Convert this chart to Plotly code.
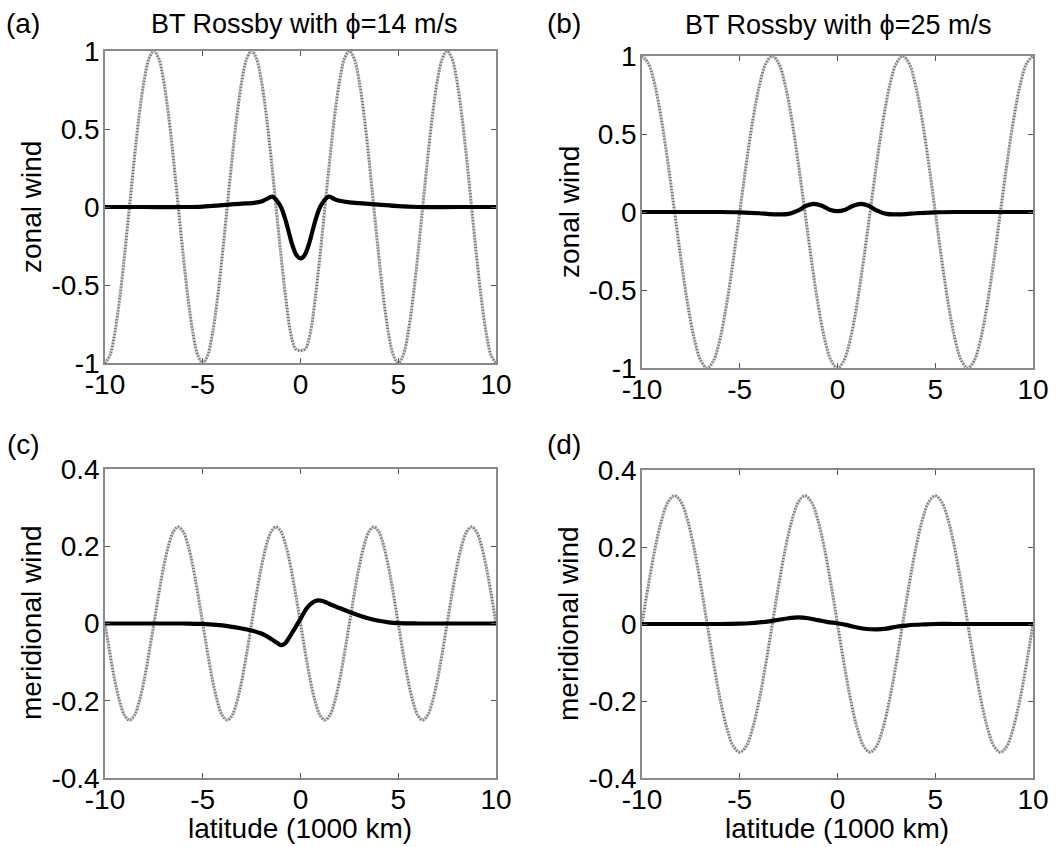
import plotly.graph_objects as go

W, H = 1060, 847
FONT = "Liberation Sans, Arial, sans-serif"

# ---------------- data ----------------
x_ac = [-10, -9.75, -9.5, -9.25, -9, -8.75, -8.5, -8.25, -8, -7.75, -7.5, -7.25, -7, -6.75, -6.5, -6.25, -6, -5.75, -5.5, -5.25,
        -5, -4.75, -4.5, -4.25, -4, -3.75, -3.5, -3.25, -3, -2.75, -2.5, -2.25, -2, -1.75, -1.5, -1.25, -1, -0.75, -0.5, -0.25,
        0, 0.25, 0.5, 0.75, 1, 1.25, 1.5, 1.75, 2, 2.25, 2.5, 2.75, 3, 3.25, 3.5, 3.75, 4, 4.25, 4.5, 4.75,
        5, 5.25, 5.5, 5.75, 6, 6.25, 6.5, 6.75, 7, 7.25, 7.5, 7.75, 8, 8.25, 8.5, 8.75, 9, 9.25, 9.5, 9.75, 10]

x_bd = [-10, -9.667, -9.333, -9, -8.667, -8.333, -8, -7.667, -7.333, -7, -6.667, -6.333, -6, -5.667, -5.333, -5, -4.667, -4.333, -4, -3.667,
        -3.333, -3, -2.667, -2.333, -2, -1.667, -1.333, -1, -0.667, -0.333, 0, 0.333, 0.667, 1, 1.333, 1.667, 2, 2.333, 2.667, 3,
        3.333, 3.667, 4, 4.333, 4.667, 5, 5.333, 5.667, 6, 6.333, 6.667, 7, 7.333, 7.667, 8, 8.333, 8.667, 9, 9.333, 9.667, 10]

# (a) zonal wind, BT Rossby phi=14 : reference wave (dotted)
ua_wave = [-1, -0.951, -0.809, -0.588, -0.309, 0, 0.309, 0.588, 0.809, 0.951, 1, 0.951, 0.809, 0.588, 0.309, 0, -0.309, -0.588, -0.809, -0.951,
           -1, -0.951, -0.809, -0.588, -0.309, 0, 0.309, 0.588, 0.809, 0.951, 1, 0.951, 0.809, 0.588, 0.309, 0, -0.309, -0.588, -0.809, -0.91,
           -0.92, -0.91, -0.809, -0.588, -0.309, 0, 0.309, 0.588, 0.809, 0.951, 1, 0.951, 0.809, 0.588, 0.309, 0, -0.309, -0.588, -0.809, -0.951,
           -1, -0.951, -0.809, -0.588, -0.309, 0, 0.309, 0.588, 0.809, 0.951, 1, 0.951, 0.809, 0.588, 0.309, 0, -0.309, -0.588, -0.809, -0.951, -1]

# (b) zonal wind, phi=25 : reference wave (dotted)
ub_wave = [1, 0.951, 0.809, 0.588, 0.309, 0, -0.309, -0.588, -0.809, -0.951, -1, -0.951, -0.809, -0.588, -0.309, 0, 0.309, 0.588, 0.809, 0.951,
           1, 0.951, 0.809, 0.588, 0.309, 0, -0.309, -0.588, -0.809, -0.951, -1, -0.951, -0.809, -0.588, -0.309, 0, 0.309, 0.588, 0.809, 0.951,
           1, 0.951, 0.809, 0.588, 0.309, 0, -0.309, -0.588, -0.809, -0.951, -1, -0.951, -0.809, -0.588, -0.309, 0, 0.309, 0.588, 0.809, 0.951, 1]

# (c) meridional wind, phi=14 : reference wave (dotted)
vc_wave = [0, -0.077, -0.147, -0.202, -0.238, -0.25, -0.238, -0.202, -0.147, -0.077, 0, 0.077, 0.147, 0.202, 0.238, 0.25, 0.238, 0.202, 0.147, 0.077,
           0, -0.077, -0.147, -0.202, -0.238, -0.25, -0.238, -0.202, -0.147, -0.077, 0, 0.077, 0.147, 0.202, 0.238, 0.25, 0.238, 0.202, 0.147, 0.077,
           0, -0.077, -0.147, -0.202, -0.238, -0.25, -0.238, -0.202, -0.147, -0.077, 0, 0.077, 0.147, 0.202, 0.238, 0.25, 0.238, 0.202, 0.147, 0.077,
           0, -0.077, -0.147, -0.202, -0.238, -0.25, -0.238, -0.202, -0.147, -0.077, 0, 0.077, 0.147, 0.202, 0.238, 0.25, 0.238, 0.202, 0.147, 0.077, 0]

# (d) meridional wind, phi=25 : reference wave (dotted)
vd_wave = [0, 0.103, 0.196, 0.269, 0.317, 0.333, 0.317, 0.269, 0.196, 0.103, 0, -0.103, -0.196, -0.269, -0.317, -0.333, -0.317, -0.269, -0.196, -0.103,
           0, 0.103, 0.196, 0.269, 0.317, 0.333, 0.317, 0.269, 0.196, 0.103, 0, -0.103, -0.196, -0.269, -0.317, -0.333, -0.317, -0.269, -0.196, -0.103,
           0, 0.103, 0.196, 0.269, 0.317, 0.333, 0.317, 0.269, 0.196, 0.103, 0, -0.103, -0.196, -0.269, -0.317, -0.333, -0.317, -0.269, -0.196, -0.103, 0]

# solid (simulated) responses
xa_sim = [-10, -8, -6, -5, -4, -3, -2.5, -2, -1.75, -1.45, -1.2, -1, -0.8, -0.6, -0.4, -0.2, 0,
          0.2, 0.4, 0.6, 0.8, 1, 1.2, 1.45, 1.75, 2, 2.5, 3, 4, 5, 6, 8, 10]
ua_sim = [0, 0, 0, 0.003, 0.012, 0.022, 0.025, 0.035, 0.05, 0.066, 0.04, 0.0, -0.07, -0.16, -0.25, -0.31, -0.33,
          -0.31, -0.25, -0.16, -0.07, 0.0, 0.04, 0.066, 0.05, 0.04, 0.03, 0.025, 0.015, 0.005, 0, 0, 0]

xb_sim = [-10, -6, -5, -4, -3.5, -3, -2.5, -2, -1.6, -1.2, -0.8, -0.4, 0, 0.4, 0.8, 1.2, 1.6, 2, 2.5, 3, 3.5, 4, 5, 6, 10]
ub_sim = [0, 0, -0.002, -0.008, -0.013, -0.015, -0.012, 0.01, 0.04, 0.052, 0.04, 0.015, 0.005, 0.015, 0.04, 0.052, 0.04, 0.01,
          -0.012, -0.015, -0.013, -0.008, -0.002, 0, 0]

xc_sim = [-10, -6, -5, -4, -3, -2.5, -2, -1.5, -1.2, -1, -0.8, -0.5, -0.2, 0, 0.3, 0.6, 0.9, 1.2, 1.6, 2, 2.5, 3, 3.5, 4, 4.5, 5, 6, 10]
vc_sim = [0, 0, -0.001, -0.005, -0.013, -0.018, -0.026, -0.04, -0.05, -0.056, -0.052, -0.03, -0.005, 0.012, 0.038, 0.054, 0.06,
          0.057, 0.048, 0.04, 0.03, 0.021, 0.013, 0.007, 0.003, 0.001, 0, 0]

xd_sim = [-10, -6, -5, -4.5, -4, -3.5, -3, -2.5, -2, -1.5, -1, -0.5, 0, 0.5, 1, 1.5, 2, 2.5, 3, 3.5, 4, 4.5, 5, 6, 10]
vd_sim = [0, 0, 0.001, 0.002, 0.004, 0.007, 0.011, 0.015, 0.017, 0.015, 0.01, 0.005, 0.002, -0.003, -0.009, -0.013, -0.014,
          -0.012, -0.007, -0.004, -0.002, -0.001, 0, 0, 0]

x_ticks = [-10, -5, 0, 5, 10]
x_ticktext = ["-10", "-5", "0", "5", "10"]
u_ticks = [-1, -0.5, 0, 0.5, 1]
u_ticktext = ["-1", "-0.5", "0", "0.5", "1"]
v_ticks = [-0.4, -0.2, 0, 0.2, 0.4]
v_ticktext = ["-0.4", "-0.2", "0", "0.2", "0.4"]

titles = ["BT Rossby with \u03d5=14 m/s", "BT Rossby with \u03d5=25 m/s"]
panel_labels = ["(a)", "(b)", "(c)", "(d)"]
ylabels = ["zonal wind", "zonal wind", "meridional wind", "meridional wind"]
xlabel = "latitude (1000 km)"

# ---------------- layout geometry (pixels) ----------------
# (left, right, top, bottom) of each plotting box
boxes = [(105, 496, 51, 363), (642, 1033, 56, 368), (105, 496, 469, 778), (642, 1033, 470, 778)]


def px_x(p):
    return p / W


def px_y(p):
    return 1 - p / H


fig = go.Figure()

panels = [
    (x_ac, ua_wave, xa_sim, ua_sim),
    (x_bd, ub_wave, xb_sim, ub_sim),
    (x_ac, vc_wave, xc_sim, vc_sim),
    (x_bd, vd_wave, xd_sim, vd_sim),
]

for i, (xw, yw, xs, ys) in enumerate(panels):
    sfx = "" if i == 0 else str(i + 1)
    fig.add_trace(go.Scatter(x=xw, y=yw, mode="lines", line=dict(color="#cdcdcd", width=3, shape="spline"),
                             xaxis="x" + sfx, yaxis="y" + sfx, showlegend=False, hoverinfo="skip"))
    fig.add_trace(go.Scatter(x=xw, y=yw, mode="lines", line=dict(color="#707070", width=3, shape="spline", dash="1px,2px"),
                             xaxis="x" + sfx, yaxis="y" + sfx, showlegend=False, hoverinfo="skip"))
    fig.add_trace(go.Scatter(x=xs, y=ys, mode="lines", line=dict(color="black", width=4.2, shape="spline"),
                             xaxis="x" + sfx, yaxis="y" + sfx, showlegend=False, hoverinfo="skip"))

axis_common = dict(showline=True, linecolor="#8a8a8a", linewidth=1.5, mirror="ticks", ticks="inside",
                   ticklen=5, tickwidth=1, tickcolor="#555555", showgrid=False, zeroline=False,
                   automargin=False, tickfont=dict(family=FONT, size=28, color="black"))

layout = dict(width=W, height=H, autosize=False, margin=dict(l=0, r=0, t=0, b=0, pad=0, autoexpand=False),
              paper_bgcolor="white", plot_bgcolor="white", showlegend=False)

for i, (l, r, t, b) in enumerate(boxes):
    sfx = "" if i == 0 else str(i + 1)
    layout["xaxis" + sfx] = dict(domain=[px_x(l), px_x(r)], range=[-10, 10], tickvals=x_ticks, ticktext=x_ticktext,
                                 anchor="y" + sfx, ticklabelstandoff=-4, **axis_common)
    if i < 2:
        yt, ytt, yr = u_ticks, u_ticktext, [-1, 1]
    else:
        yt, ytt, yr = v_ticks, v_ticktext, [-0.4, 0.4]
    layout["yaxis" + sfx] = dict(domain=[px_y(b), px_y(t)], range=yr, tickvals=yt, ticktext=ytt,
                                 anchor="x" + sfx, ticklabelstandoff=-2, **axis_common)

fig.update_layout(**layout)

ann = []
# panel titles
for (cx, cy), txt in zip([(304, 24), (838, 25)], titles):
    ann.append(dict(text=txt, x=px_x(cx), y=px_y(cy), font=dict(family=FONT, size=27, color="black")))
# panel labels
for (cx, cy), txt in zip([(23, 24), (564, 24), (23, 445), (564, 445)], panel_labels):
    ann.append(dict(text=txt, x=px_x(cx), y=px_y(cy)))
# y-axis titles
for (cx, cy), txt in zip([(31, 207), (569, 212), (31, 623), (568, 624)], ylabels):
    ann.append(dict(text=txt, x=px_x(cx), y=px_y(cy), textangle=-90))
# x-axis titles
for cx in [300, 837]:
    ann.append(dict(text=xlabel, x=px_x(cx), y=px_y(828)))

for a in ann:
    a.update(xref="paper", yref="paper", xanchor="center", yanchor="middle", showarrow=False)
    if "font" not in a:
        a["font"] = dict(family=FONT, size=28, color="black")
fig.update_layout(annotations=ann)

fig.write_html("out.html")
